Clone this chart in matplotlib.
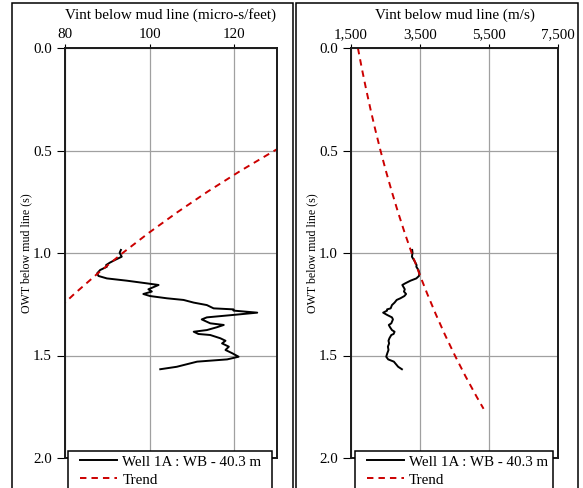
import matplotlib.pyplot as plt
from matplotlib.patches import Rectangle
from matplotlib.ticker import FuncFormatter
from matplotlib.legend_handler import HandlerLine2D

plt.rcParams['font.family'] = ['Liberation Serif', 'DejaVu Serif']

# Well 1A : interval slowness (micro-s/feet) vs OWT below mud line (s)
well_owt = [0.985, 0.999, 1.018, 1.034, 1.047, 1.059, 1.067, 1.083, 1.099, 1.112,
            1.124, 1.135, 1.148, 1.156, 1.177, 1.188, 1.200, 1.210, 1.221, 1.229,
            1.242, 1.254, 1.270, 1.275, 1.281, 1.291, 1.302, 1.314, 1.324, 1.343,
            1.351, 1.362, 1.376, 1.384, 1.395, 1.400, 1.416, 1.428, 1.441, 1.457,
            1.473, 1.489, 1.506, 1.519, 1.530, 1.555, 1.567]
well_slow = [93.2, 92.9, 93.4, 91.8, 90.6, 89.7, 89.9, 88.3, 87.6, 87.9,
             89.9, 94.6, 99.3, 102.1, 99.7, 100.5, 98.5, 100.1, 104.1, 108.0,
             110.4, 113.5, 115.1, 119.8, 119.8, 125.4, 119.8, 113.5, 112.3, 114.3,
             117.5, 115.9, 113.5, 110.4, 111.5, 114.3, 116.7, 117.9, 117.1, 118.7,
             117.9, 119.5, 121.0, 118.3, 111.2, 106.4, 102.5]

# Trend : interval velocity (m/s) vs OWT
trend_owt = [0.0, 0.1, 0.2, 0.3, 0.4, 0.5, 0.6, 0.7, 0.8, 0.9,
             1.0, 1.1, 1.2, 1.3, 1.4, 1.5, 1.6, 1.7, 1.76]
trend_vel = [1700, 1814, 1936, 2066, 2205, 2353, 2511, 2680, 2859, 3051,
             3256, 3475, 3709, 3958, 4223, 4507, 4810, 5133, 5337]

FT = 304800.0  # micro-s/ft <-> m/s
well_vel = [FT / s for s in well_slow]
trend_slow = [FT / v for v in trend_vel]


class ShiftedLine(HandlerLine2D):
    # décale le début du trait de légende vers la droite
    def create_artists(self, legend, orig_handle, xdescent, ydescent,
                       width, height, fontsize, trans):
        arts = super().create_artists(legend, orig_handle, xdescent, ydescent,
                                      width, height, fontsize, trans)
        for a in arts:
            xd = list(a.get_xdata())
            if len(xd) >= 2:
                xd[0] = xd[0] + 6.0
                a.set_xdata(xd)
        return arts


W, H = 583, 488
fig = plt.figure(figsize=(W / 100, H / 100), dpi=100)

# cadres des deux panneaux
for x0, x1 in [(12, 293), (296, 578)]:
    fig.patches.append(Rectangle((x0 / W, -0.05), (x1 - x0) / W, (H - 3) / H + 0.05,
                                 transform=fig.transFigure, fill=False,
                                 edgecolor='black', linewidth=1.1))

ax1 = fig.add_axes([65 / W, 30 / H, 211.7 / W, 410 / H])
ax2 = fig.add_axes([351 / W, 30 / H, 207.3 / W, 410 / H])

panels = [
    (ax1, well_slow, trend_slow, (80, 130), [80, 100, 120],
     'Vint below mud line (micro-s/feet)', lambda v, p: f'{v:.0f}', (0.0156, 0.961)),
    (ax2, well_vel, trend_vel, (1500, 7500), [1500, 3500, 5500, 7500],
     'Vint below mud line (m/s)', lambda v, p: f'{v:,.0f}', (0.0193, 0.957)),
]

for ax, wx, tx, xlim, xt, title, fmt, (lx, lw) in panels:
    ax.plot(wx, well_owt, color='black', linewidth=1.4, label='Well 1A : WB - 40.3 m')
    ax.plot(tx, trend_owt, color='#cc0000', linewidth=1.4, linestyle=(0, (3.3, 2.6)),
            label='Trend')
    ax.set_xlim(*xlim)
    ax.set_ylim(2.0, 0.0)
    ax.set_xticks(xt)
    ax.set_yticks([0.0, 0.5, 1.0, 1.5, 2.0])
    ax.xaxis.set_major_formatter(FuncFormatter(fmt))
    ax.yaxis.set_major_formatter(FuncFormatter(lambda v, p: f'{v:.1f}'))
    ax.xaxis.tick_top()
    ax.xaxis.set_label_position('top')
    ax.tick_params(axis='x', length=3, width=0.8, pad=2, labelsize=10.8)
    ax.tick_params(axis='y', length=6, width=0.8, pad=3.5, labelsize=10.8)
    ax.set_xlabel(title, fontsize=10.9, labelpad=6.5)
    ax.set_ylabel('OWT below mud line (s)', fontsize=8.6, labelpad=0.5)
    ax.grid(True, color='#a0a0a0', linewidth=0.9)
    ax.set_axisbelow(True)
    for sp in ax.spines.values():
        sp.set_linewidth(1.4)
        sp.set_color('#1a1a1a')
    leg = ax.legend(loc='upper left', bbox_to_anchor=(lx, -0.2, lw, 0.216),
                    mode='expand', borderaxespad=0,
                    fontsize=10.8, frameon=True, fancybox=False, framealpha=1,
                    edgecolor='black', handlelength=3.0, handletextpad=0.35,
                    labelspacing=0.3, borderpad=0.25,
                    handler_map={plt.Line2D: ShiftedLine()})
    leg.get_frame().set_linewidth(1.1)

fig.savefig('out.png', dpi=100)
